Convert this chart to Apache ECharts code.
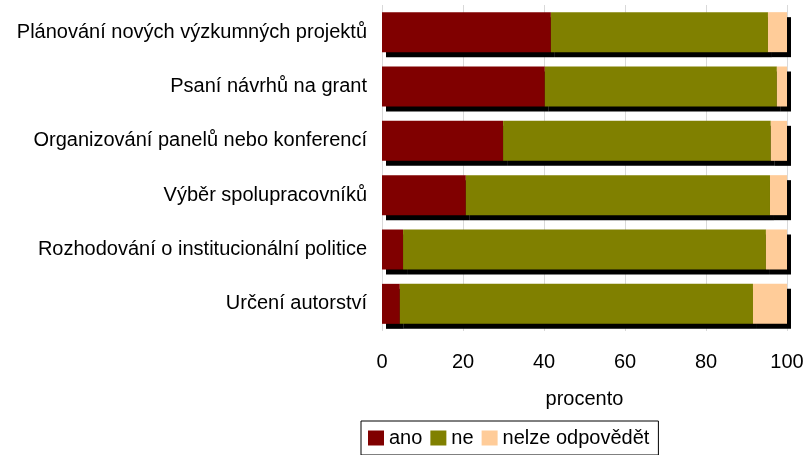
<!DOCTYPE html>
<html>
<head>
<meta charset="utf-8">
<script src="https://cdn.jsdelivr.net/npm/echarts@6/dist/echarts.min.js"></script>
<style>
  html, body { margin: 0; padding: 0; background: #fff; }
  #main { width: 805px; height: 455px; }
</style>
</head>
<body>
<div id="main"></div>
<script>
// kategorie (odshora dolu)
var kategorie = [
    'Plánování nových výzkumných projektů',
    'Psaní návrhů na grant',
    'Organizování panelů nebo konferencí',
    'Výběr spolupracovníků',
    'Rozhodování o institucionální politice',
    'Určení autorství'
];
var ano = [41.7, 40.2, 29.9, 20.7, 5.2, 4.4];
var ne = [53.6, 57.3, 66.1, 75.1, 89.6, 87.2];
var nelze = [4.7, 2.5, 4.0, 4.2, 5.2, 8.4];
var xTicks = [0, 20, 40, 60, 80, 100];

var font = 'Liberation Sans, Arial, sans-serif';
var stin = {shadowColor: '#000', shadowBlur: 0, shadowOffsetX: 4, shadowOffsetY: 5};

function serie(name, data, color){
    return {
        name: name,
        type: 'bar',
        stack: 'celkem',
        barWidth: 40,
        data: data,
        itemStyle: Object.assign({color: color}, stin),
        emphasis: {disabled: true}
    };
}

var chart = echarts.init(document.getElementById('main'));
var option = {
    animation: false,
    textStyle: {fontFamily: font},
    grid: {left: 382, right: 18, top: 5, height: 326, containLabel: false, outerBoundsMode: 'none'},
    legend: {
        data: ['ano', 'ne', 'nelze odpovědět'],
        left: 361,
        top: 421,
        padding: [7, 9, 7, 7],
        borderColor: '#000',
        borderWidth: 1,
        itemWidth: 16,
        itemHeight: 15,
        itemGap: 8,
        icon: 'rect',
        textStyle: {fontSize: 20, color: '#000', fontFamily: font}
    },
    xAxis: {
        type: 'value',
        min: xTicks[0],
        max: xTicks[xTicks.length - 1],
        interval: 20,
        name: 'procento',
        nameLocation: 'middle',
        nameGap: 58,
        nameTextStyle: {fontSize: 20, color: '#000', fontFamily: font},
        axisLine: {show: false},
        axisTick: {show: false},
        axisLabel: {fontSize: 20, color: '#000', margin: 21, fontFamily: font},
        splitLine: {show: true, lineStyle: {color: '#d9d9d9', width: 1}}
    },
    yAxis: {
        type: 'category',
        data: kategorie,
        inverse: true,
        axisLine: {show: false},
        axisTick: {show: false},
        axisLabel: {fontSize: 20, color: '#000', margin: 15, fontFamily: font}
    },
    series: [
        serie('ano', ano, '#800000'),
        serie('ne', ne, '#808000'),
        serie('nelze odpovědět', nelze, '#ffcc99')
    ]
};
chart.setOption(option);
</script>
</body>
</html>
